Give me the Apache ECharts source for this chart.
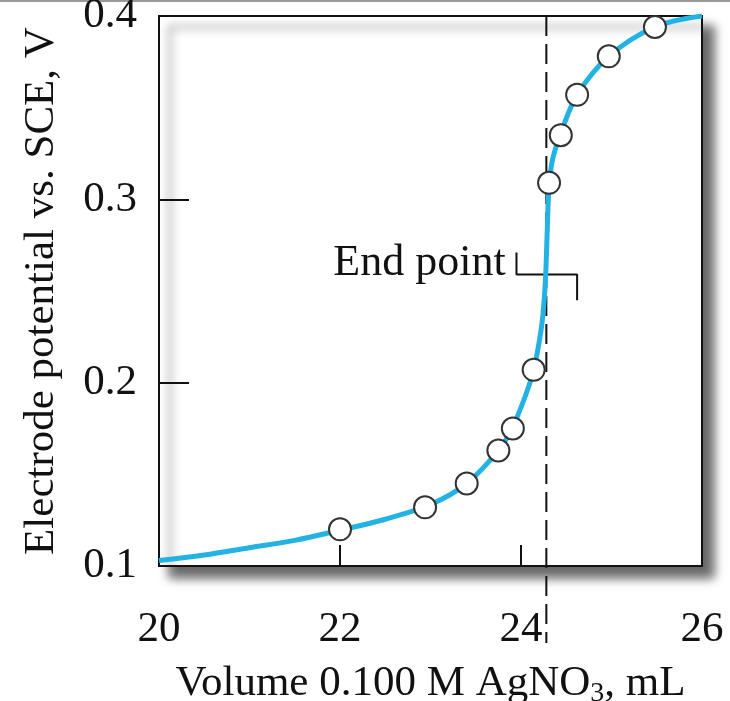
<!DOCTYPE html>
<html>
<head>
<meta charset="utf-8">
<script src="https://cdn.jsdelivr.net/npm/echarts@6/dist/echarts.min.js"></script>
<style>
  html, body { margin: 0; padding: 0; background: #fff; }
  #chart { width: 730px; height: 701px; }
</style>
</head>
<body>
<div id="chart"></div>
<script>
// titration curve (smooth line)
var curveX = [20, 20.5, 21, 21.5, 22, 22.5, 23, 23.4, 23.75, 23.9, 24.05, 24.14, 24.2, 24.24, 24.27, 24.29, 24.31, 24.35, 24.44, 24.62, 24.97, 25.48, 26];
var curveY = [0.103, 0.106, 0.110, 0.114, 0.1195, 0.1255, 0.1335, 0.145, 0.163, 0.175, 0.193, 0.207, 0.222, 0.236, 0.256, 0.283, 0.307, 0.322, 0.336, 0.357, 0.378, 0.394, 0.400];

// measured points (open circles)
var pointX = [22.0, 22.94, 23.4, 23.75, 23.91, 24.14, 24.31, 24.44, 24.62, 24.97, 25.48];
var pointY = [0.120, 0.132, 0.145, 0.163, 0.175, 0.207, 0.309, 0.335, 0.357, 0.378, 0.394];

var xTicks = [20, 22, 24, 26];
var yTicks = [0.1, 0.2, 0.3, 0.4];

var endPointX = 24.28;
var endLabel = 'End point';
var bracketX = [23.95, 23.95, 24.62, 24.62];
var bracketY = [0.271, 0.259, 0.259, 0.245];

var font = "'Liberation Serif', 'Times New Roman', serif";
var ink = '#111';
var blue = '#22b2e4';

function zip(xs, ys) {
  var out = [];
  for (var i = 0; i < xs.length; i++) out.push([xs[i], ys[i]]);
  return out;
}

var chart = echarts.init(document.getElementById('chart'));

var option = {
  animation: false,
  backgroundColor: '#fff',
  graphic: [{
    type: 'line',
    shape: { x1: 0, y1: 1, x2: 730, y2: 1 },
    style: { stroke: '#999', lineWidth: 2 }
  }],
  grid: {
    left: 159, right: 28, top: 16, bottom: 135,
    outerBoundsMode: 'none',
    show: true,
    backgroundColor: '#fff',
    borderColor: ink,
    borderWidth: 2,
    shadowColor: 'rgba(0,0,0,0.6)',
    shadowBlur: 10,
    shadowOffsetX: 11,
    shadowOffsetY: 11
  },
  xAxis: {
    type: 'value',
    min: xTicks[0], max: xTicks[xTicks.length - 1], interval: 2,
    name: 'Volume 0.100 M AgNO{sub|3}, mL',
    nameLocation: 'middle',
    nameGap: 94,
    nameTextStyle: {
      color: ink, fontFamily: font, fontSize: 43,
      rich: { sub: { fontFamily: font, fontSize: 28, color: ink, padding: [20, 0, 0, 0] } }
    },
    axisLine: { show: true, lineStyle: { color: ink, width: 2 } },
    axisTick: { show: true, inside: true, length: 21, lineStyle: { color: ink, width: 2 } },
    axisLabel: { color: ink, fontFamily: font, fontSize: 43, margin: 42 },
    splitLine: { show: false }
  },
  yAxis: {
    type: 'value',
    min: yTicks[0], max: yTicks[yTicks.length - 1], interval: 0.1,
    name: 'Electrode potential vs. SCE, V',
    nameLocation: 'middle',
    nameGap: 96,
    nameRotate: 90,
    nameTextStyle: { color: ink, fontFamily: font, fontSize: 43 },
    axisLine: { show: true, lineStyle: { color: ink, width: 2 } },
    axisTick: { show: true, inside: true, length: 30, lineStyle: { color: ink, width: 2 } },
    axisLabel: {
      color: ink, fontFamily: font, fontSize: 43, margin: 22,
      formatter: function (v) { return v.toFixed(1); }
    },
    splitLine: { show: false }
  },
  series: [
    {
      name: 'curve',
      type: 'line',
      data: zip(curveX, curveY),
      smooth: 0.35,
      showSymbol: false,
      lineStyle: { color: blue, width: 5 },
      z: 3
    },
    {
      name: 'end point',
      type: 'line',
      clip: false,
      data: [[endPointX, yTicks[yTicks.length - 1]], [endPointX, 0.058]],
      showSymbol: false,
      lineStyle: { color: ink, width: 2, type: [20, 8] },
      z: 2
    },
    {
      name: 'bracket',
      type: 'line',
      data: zip(bracketX, bracketY),
      showSymbol: false,
      lineStyle: { color: ink, width: 2 },
      z: 2
    },
    {
      name: 'label',
      type: 'scatter',
      data: [[23.83, 0.265]],
      symbolSize: 0,
      itemStyle: { opacity: 1 },
      label: {
        show: true, position: 'left', distance: 0,
        formatter: endLabel,
        color: ink, fontFamily: font, fontSize: 44
      }
    },
    {
      name: 'points',
      type: 'scatter',
      data: zip(pointX, pointY),
      symbol: 'circle',
      symbolSize: 22,
      itemStyle: { color: '#fff', borderColor: '#333', borderWidth: 2, opacity: 1 },
      z: 4
    }
  ]
};

chart.setOption(option);
</script>
</body>
</html>
